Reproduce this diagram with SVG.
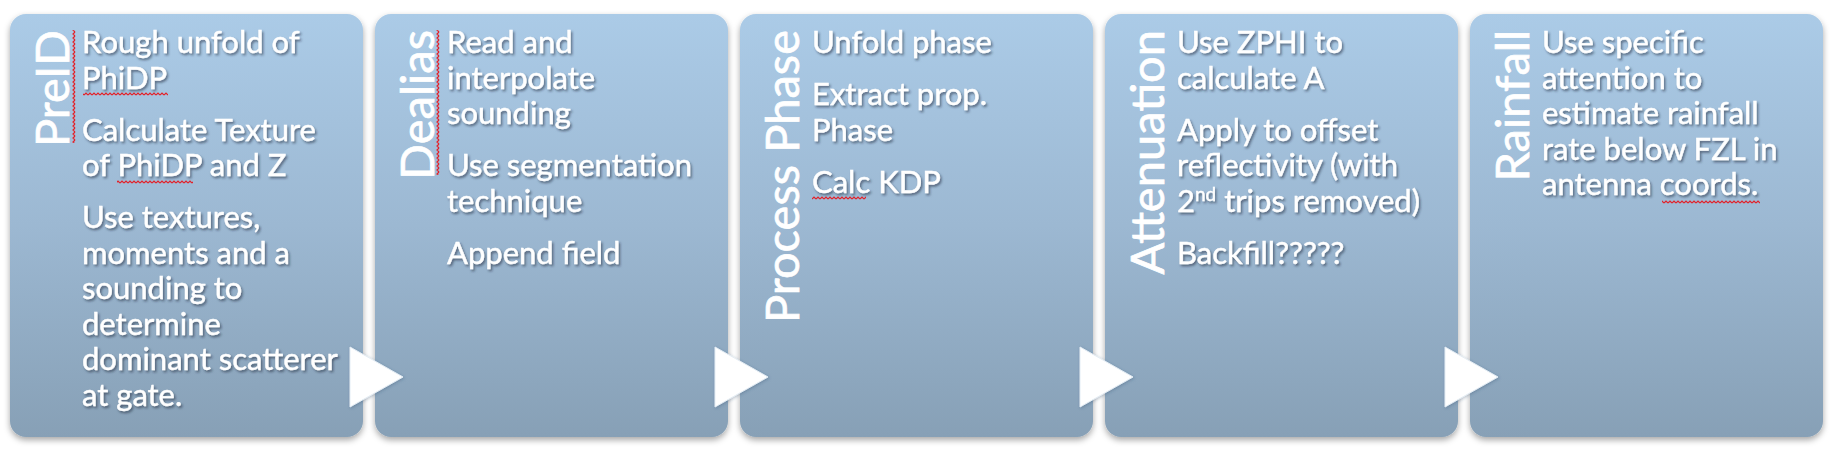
<svg xmlns="http://www.w3.org/2000/svg" width="1842" height="472" viewBox="0 0 1842 472">
<style>
.box{fill:url(#bg);filter:url(#bshadow)}
.title{font-family:Lato,"Liberation Sans",sans-serif;font-size:47px;fill:#fff;stroke:#fff;stroke-width:0.7;text-anchor:end}
.body{font-family:Lato,"Liberation Sans",sans-serif;font-size:31px;fill:#fff;stroke:#fff;stroke-width:0.4;filter:url(#tshadow)}
.tri{fill:#fff;stroke:#e4edf5;stroke-width:1;filter:url(#trishadow)}
.sqh{fill:url(#sqh)}
.sqv{fill:url(#sqv)}
</style>
<defs>
<linearGradient id="bg" x1="0" y1="0" x2="0" y2="1">
<stop offset="0" stop-color="#abcbe7"/>
<stop offset="0.5" stop-color="#9cb8d2"/>
<stop offset="1" stop-color="#87a0b6"/>
</linearGradient>
<filter id="bshadow" x="-5%" y="-5%" width="110%" height="112%">
<feDropShadow dx="0" dy="3" stdDeviation="3" flood-color="#000" flood-opacity="0.35"/>
</filter>
<filter id="tshadow" x="-5%" y="-10%" width="115%" height="130%">
<feDropShadow dx="1.5" dy="2" stdDeviation="1.2" flood-color="#1a2a3a" flood-opacity="0.55"/>
</filter>
<filter id="trishadow" x="-20%" y="-20%" width="150%" height="150%">
<feDropShadow dx="1" dy="1" stdDeviation="1.5" flood-color="#2a4a6a" flood-opacity="0.3"/>
</filter>
<pattern id="sqh" patternUnits="userSpaceOnUse" width="4" height="4">
<path d="M0,3 L2,1 L4,3" fill="none" stroke="#e41e26" stroke-width="1.2"/>
</pattern>
<pattern id="sqv" patternUnits="userSpaceOnUse" width="4" height="4">
<path d="M3,0 L1,2 L3,4" fill="none" stroke="#e41e26" stroke-width="1.2"/>
</pattern>
</defs>

<g id="node-preid">
<rect class="box" x="10" y="14" width="353" height="423" rx="16"/>
<text class="title" transform="translate(69,30) rotate(-90)">PreID</text>
<rect class="sqv" x="72" y="30" width="4" height="113"/>
<text class="body">
<tspan x="82" y="53">Rough unfold of</tspan>
<tspan x="82" y="88.5">PhiDP</tspan>
<tspan x="82" y="140.5">Calculate Texture</tspan>
<tspan x="82" y="176">of PhiDP and Z</tspan>
<tspan x="82" y="228">Use textures,</tspan>
<tspan x="82" y="263.5">moments and a</tspan>
<tspan x="82" y="299">sounding to</tspan>
<tspan x="82" y="334.5">determine</tspan>
<tspan x="82" y="370">dominant scatterer</tspan>
<tspan x="82" y="405.5">at gate.</tspan>
</text>
<rect class="sqh" x="83" y="92" width="85" height="4"/>
<rect class="sqh" x="117" y="180" width="76" height="4"/>
</g>

<g id="node-dealias">
<rect class="box" x="375" y="14" width="353" height="423" rx="16"/>
<text class="title" transform="translate(434,30) rotate(-90)">Dealias</text>
<rect class="sqv" x="436" y="30" width="4" height="145"/>
<text class="body">
<tspan x="447" y="53">Read and</tspan>
<tspan x="447" y="88.5">interpolate</tspan>
<tspan x="447" y="124">sounding</tspan>
<tspan x="447" y="176">Use segmentation</tspan>
<tspan x="447" y="211.5">technique</tspan>
<tspan x="447" y="263.5">Append field</tspan>
</text>
</g>

<g id="node-process-phase">
<rect class="box" x="740" y="14" width="353" height="423" rx="16"/>
<text class="title" transform="translate(799,30) rotate(-90)">Process Phase</text>
<text class="body">
<tspan x="812" y="53">Unfold phase</tspan>
<tspan x="812" y="105">Extract prop.</tspan>
<tspan x="812" y="140.5">Phase</tspan>
<tspan x="812" y="192.5">Calc KDP</tspan>
</text>
<rect class="sqh" x="812" y="196" width="54" height="4"/>
</g>

<g id="node-attenuation">
<rect class="box" x="1105" y="14" width="353" height="423" rx="16"/>
<text class="title" transform="translate(1164,30) rotate(-90)">Attenuation</text>
<text class="body">
<tspan x="1177" y="53">Use ZPHI to</tspan>
<tspan x="1177" y="88.5">calculate A</tspan>
<tspan x="1177" y="140.5">Apply to offset</tspan>
<tspan x="1177" y="176">reflectivity (with</tspan>
<tspan x="1177" y="211.5">2<tspan font-size="19" dy="-11">nd</tspan><tspan dy="11"> trips removed)</tspan></tspan>
<tspan x="1177" y="263.5">Backfill?????</tspan>
</text>
</g>

<g id="node-rainfall">
<rect class="box" x="1470" y="14" width="353" height="423" rx="16"/>
<text class="title" transform="translate(1529,30) rotate(-90)">Rainfall</text>
<text class="body">
<tspan x="1542" y="53">Use specific</tspan>
<tspan x="1542" y="88.5">attention to</tspan>
<tspan x="1542" y="124">estimate rainfall</tspan>
<tspan x="1542" y="159.5">rate below FZL in</tspan>
<tspan x="1542" y="195">antenna coords.</tspan>
</text>
<rect class="sqh" x="1662" y="200" width="98" height="4"/>
</g>

<g id="connectors">
<polygon class="tri" points="350,347 403,377 350,407"/>
<polygon class="tri" points="715,347 768,377 715,407"/>
<polygon class="tri" points="1080,347 1133,377 1080,407"/>
<polygon class="tri" points="1445,347 1498,377 1445,407"/>
</g>
</svg>
